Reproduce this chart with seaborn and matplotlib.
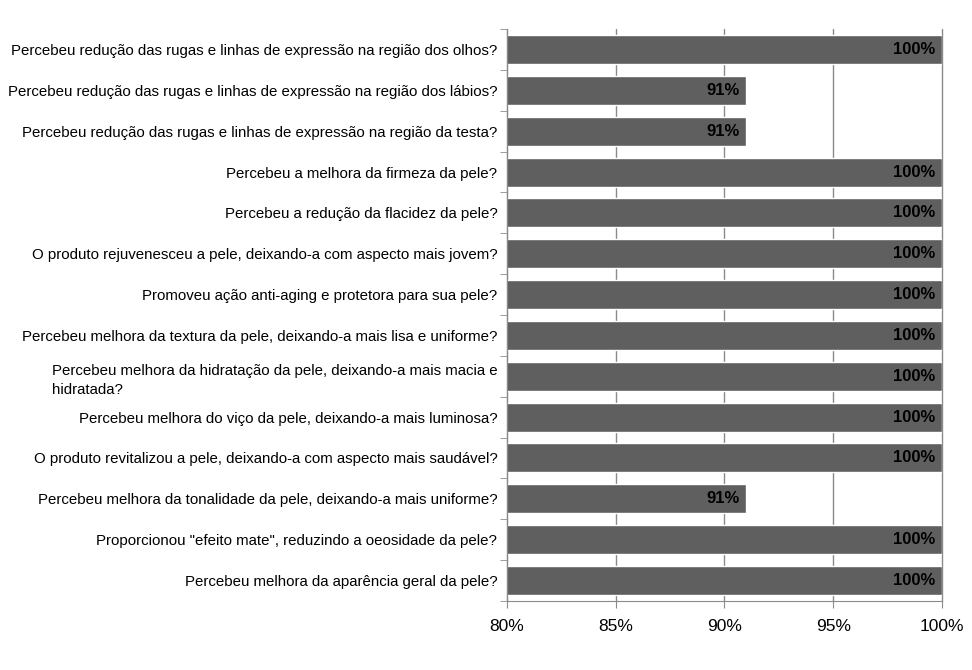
import matplotlib
matplotlib.use("Agg")
import matplotlib.pyplot as plt
import seaborn as sns
import pandas as pd
from matplotlib.ticker import FuncFormatter

# perguntas (de cima para baixo) e % de respostas positivas
perguntas = [
    "Percebeu redução das rugas e linhas de expressão na região dos olhos?",
    "Percebeu redução das rugas e linhas de expressão na região dos lábios?",
    "Percebeu redução das rugas e linhas de expressão na região da testa?",
    "Percebeu a melhora da firmeza da pele?",
    "Percebeu a redução da flacidez da pele?",
    "O produto rejuvenesceu a pele, deixando-a com aspecto mais jovem?",
    "Promoveu ação anti-aging e protetora para sua pele?",
    "Percebeu melhora da textura da pele, deixando-a mais lisa e uniforme?",
    "Percebeu melhora da hidratação da pele, deixando-a mais macia e\nhidratada?",
    "Percebeu melhora do viço da pele, deixando-a mais luminosa?",
    "O produto revitalizou a pele, deixando-a com aspecto mais saudável?",
    "Percebeu melhora da tonalidade da pele, deixando-a mais uniforme?",
    "Proporcionou \"efeito mate\", reduzindo a oeosidade da pele?",
    "Percebeu melhora da aparência geral da pele?",
]
percentuais = [100, 91, 91, 100, 100, 100, 100, 100, 100, 100, 100, 91, 100, 100]
xticks = [80, 85, 90, 95, 100]

df = pd.DataFrame({"pergunta": perguntas, "pct": percentuais})

sns.set_style("white")
plt.rcParams["font.family"] = ["Liberation Sans", "DejaVu Sans"]
plt.rcParams["text.color"] = "black"
plt.rcParams["xtick.color"] = "#8a8a8a"
plt.rcParams["ytick.color"] = "#8a8a8a"
plt.rcParams["xtick.labelcolor"] = "black"
plt.rcParams["ytick.labelcolor"] = "black"

fig = plt.figure(figsize=(9.72, 6.70), dpi=100)
ax = fig.add_axes([0.5216, 0.103, 0.4475, 0.8537])
ax.set_axisbelow(True)

sns.barplot(data=df, x="pct", y="pergunta", orient="h", color="#5f5f5f",
            saturation=1, width=0.71, ax=ax)

ax.set_xlim(80, 100)
ax.set_xticks(xticks)
ax.xaxis.set_major_formatter(FuncFormatter(lambda v, p: f"{v:.0f}%"))
ax.grid(axis="x", color="#8a8a8a", linewidth=1, clip_on=False)
ax.grid(axis="y", visible=False)
ax.set_xlabel("")
ax.set_ylabel("")

for s in ["top", "right"]:
    ax.spines[s].set_visible(False)
for s in ["left", "bottom"]:
    ax.spines[s].set_color("#8a8a8a")

# ticks entre as categorias, como no Excel
ax.set_yticks([i - 0.5 for i in range(len(perguntas) + 1)], minor=True)
ax.tick_params(axis="y", which="minor", length=5, left=True)
ax.tick_params(axis="y", which="major", length=0, pad=7, labelsize=10.8)
ax.tick_params(axis="x", length=5, bottom=True, labelsize=12.5, pad=8)
ax.set_ylim(len(perguntas) - 0.5, -0.5)
for lbl in ax.get_yticklabels():
    lbl.set_multialignment("left")
    lbl.set_linespacing(1.5)

for i, v in enumerate(percentuais):
    ax.text(v - 0.3, i, f"{v}%", ha="right", va="center",
            fontsize=12, fontweight="bold", color="black")

fig.savefig("out.png", dpi=100)
